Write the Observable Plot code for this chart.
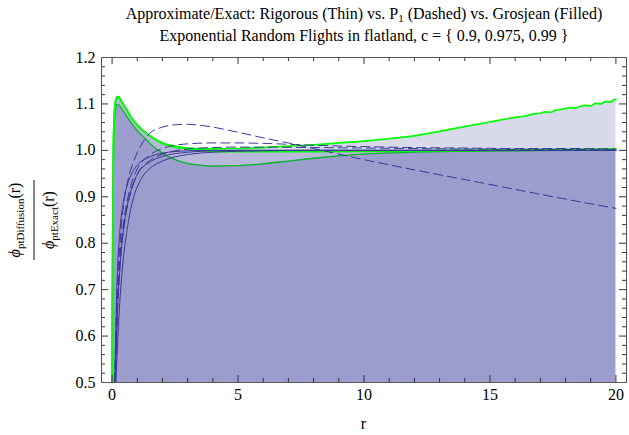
<!DOCTYPE html>
<html>
<head>
<meta charset="utf-8">
<script src="https://cdn.jsdelivr.net/npm/d3@7"></script>
<script src="https://cdn.jsdelivr.net/npm/@observablehq/plot@0.6"></script>
<style>
  html, body { margin: 0; padding: 0; background: #fff; }
  #wrap { position: relative; width: 629px; height: 435px; font-family: "Liberation Serif", "DejaVu Serif", serif; }
  #title { position: absolute; left: 364px; top: 3px; transform: translateX(-50%); white-space: nowrap; text-align: center; font-size: 16px; line-height: 22px; color: #000; }
  #title sub { font-size: 11px; vertical-align: -3px; line-height: 0; }
  #chart { position: absolute; left: 0; top: 50px; }
</style>
</head>
<body>
<div id="wrap">
  <div id="title">Approximate/Exact: Rigorous (Thin) vs. P<sub>1</sub> (Dashed) vs. Grosjean (Filled)<br>Exponential Random Flights in flatland, c = { 0.9, 0.975, 0.99 }</div>
  <div id="chart"></div>
</div>
<script>
// ---- Data: [r, ratio] ----
const grosjean_c090 = [[0,0.5],[0.02,0.75],[0.05,0.97],[0.1,1.07],[0.15,1.093],[0.2,1.099],[0.3,1.096],[0.4,1.088],[0.5,1.08],[0.75,1.06],[1,1.042],[1.25,1.029],[1.5,1.015],[2,0.994],[2.5,0.98],[3,0.972],[3.5,0.968],[4,0.966],[5,0.967],[6,0.971],[7,0.977],[8,0.983],[9,0.988],[10,0.992],[12,0.996],[14,0.998],[16,0.999],[18,1.0],[20,1.0]];
const grosjean_c0975 = [[0,0.5],[0.02,0.78],[0.05,1.0],[0.1,1.09],[0.15,1.11],[0.2,1.116],[0.25,1.116],[0.3,1.113],[0.4,1.104],[0.5,1.095],[0.75,1.072],[1,1.055],[1.25,1.042],[1.5,1.031],[2,1.015],[2.5,1.007],[3,1.003],[3.5,1.0],[4,0.998],[5,0.997],[6,0.997],[8,0.997],[10,0.998],[12,0.999],[14,1.0],[16,1.001],[18,1.002],[20,1.003]];
const grosjean_c099 = [[0,0.5],[0.02,0.78],[0.05,1.0],[0.1,1.088],[0.15,1.108],[0.2,1.114],[0.25,1.114],[0.3,1.111],[0.4,1.102],[0.5,1.094],[0.75,1.071],[1,1.054],[1.5,1.031],[2,1.016],[2.5,1.009],[3,1.005],[4,1.003],[5,1.004],[6,1.006],[7,1.009],[8,1.012],[9,1.016],[10,1.02],[11,1.025],[12,1.031],[13,1.041],[14,1.051],[15,1.061],[16,1.071],[16.4,1.074],[16.8,1.079],[17,1.08],[17.2,1.083],[17.4,1.082],[17.6,1.086],[17.8,1.088],[18,1.09],[18.2,1.092],[18.4,1.091],[18.6,1.095],[18.8,1.097],[19,1.096],[19.2,1.101],[19.4,1.1],[19.6,1.105],[19.8,1.104],[19.9,1.109],[20,1.11]];

const rigorous_c090 = [[0.15,0.5],[0.25,0.62],[0.4,0.74],[0.6,0.83],[0.79,0.885],[1.12,0.935],[1.5,0.961],[2,0.977],[2.5,0.986],[3,0.991],[4,0.996],[5,0.998],[6,0.999],[8,1.0],[20,1.0]];
const rigorous_c0975 = [[0.13,0.5],[0.2,0.63],[0.3,0.74],[0.45,0.83],[0.6,0.88],[0.85,0.93],[1,0.948],[1.5,0.975],[2,0.987],[3,0.996],[4,0.999],[5,1.0],[20,1.0]];
const rigorous_c099 = [[0.11,0.5],[0.15,0.62],[0.2,0.72],[0.3,0.82],[0.45,0.89],[0.6,0.925],[0.8,0.952],[1,0.968],[1.5,0.986],[2,0.994],[3,0.999],[4,1.0],[20,1.0]];

const p1_c090 = [[0.1,0.5],[0.2,0.69],[0.3,0.79],[0.45,0.88],[0.65,0.94],[0.85,0.975],[1,0.995],[1.25,1.02],[1.5,1.037],[2,1.05],[2.5,1.055],[3,1.056],[3.5,1.054],[4,1.05],[5,1.039],[6,1.027],[7,1.016],[8,1.004],[10,0.98],[12,0.958],[14,0.937],[16,0.916],[18,0.895],[20,0.875]];
const p1_c0975 = [[0.11,0.5],[0.2,0.66],[0.3,0.76],[0.5,0.86],[0.75,0.925],[1,0.96],[1.5,0.99],[2,1.004],[2.5,1.011],[3,1.014],[4,1.016],[5,1.016],[6,1.015],[8,1.011],[10,1.008],[12,1.006],[14,1.005],[16,1.004],[18,1.004],[20,1.003]];
const p1_c099 = [[0.12,0.5],[0.2,0.64],[0.3,0.74],[0.5,0.845],[0.75,0.91],[1,0.948],[1.5,0.978],[2,0.992],[2.5,0.999],[3,1.003],[4,1.006],[5,1.007],[6,1.007],[8,1.006],[10,1.005],[14,1.003],[20,1.002]];

const xTickLabels = [0, 5, 10, 15, 20];
const xMinorTicks = [1,2,3,4,6,7,8,9,11,12,13,14,16,17,18,19];
const yTickLabels = [0.5, 0.6, 0.7, 0.8, 0.9, 1.0, 1.1, 1.2];
const yMinorTicks = d3.range(0.52, 1.2, 0.02).filter(v => Math.abs(Math.round(v*10) - v*10) > 0.05);

// ---- Layout ----
const X0 = -0.42, X1 = 20.42, Y0 = 0.5, Y1 = 1.2;
const W = 629, H = 385, mL = 101, mR = 3, mT = 7, mB = 53;
const pxX = (X1 - X0) / (W - mL - mR);
const pxY = (Y1 - Y0) / (H - mT - mB);

const FILL = "#000080", FILL_OP = 0.15;
const GREEN = "#00ff00";
const BLUE = "#383896";
const SERIF = "'Liberation Serif', 'DejaVu Serif', serif";
const fx = d => d[0], fy = d => d[1];

function area(data) {
  return Plot.areaY(data, {x: fx, y1: Y0, y2: fy, fill: FILL, fillOpacity: FILL_OP, curve: "monotone-x", clip: true});
}
function gline(data, w, col) {
  return Plot.line(data, {x: fx, y: fy, stroke: col || GREEN, strokeWidth: w, curve: "monotone-x", clip: true});
}
function bline(data, dashed) {
  return Plot.line(data, {x: fx, y: fy, stroke: BLUE, strokeWidth: 1, strokeDasharray: dashed ? "9,5" : null, curve: "monotone-x", clip: true});
}

const tickCol = "#333";
const chart = Plot.plot({
  width: W, height: H,
  marginLeft: mL, marginRight: mR, marginTop: mT, marginBottom: mB,
  style: {fontSize: "16px", background: "transparent", color: "#000"},
  x: {domain: [X0, X1]},
  y: {domain: [Y0, Y1]},
  marks: [
    area(grosjean_c090),
    gline(grosjean_c090, 1.3),
    area(grosjean_c0975),
    area(grosjean_c099),
    gline(grosjean_c0975, 1.7),
    gline(grosjean_c099, 1.7),
    bline(rigorous_c090, false),
    bline(rigorous_c0975, false),
    bline(rigorous_c099, false),
    bline(p1_c090, true),
    bline(p1_c0975, true),
    bline(p1_c099, true),
    // frame ticks (inward)
    Plot.ruleX(xTickLabels, {y1: Y0, y2: Y0 + 7*pxY, stroke: tickCol}),
    Plot.ruleX(xMinorTicks, {y1: Y0, y2: Y0 + 4*pxY, stroke: tickCol}),
    Plot.ruleX(xTickLabels, {y1: Y1, y2: Y1 - 7*pxY, stroke: tickCol}),
    Plot.ruleX(xMinorTicks, {y1: Y1, y2: Y1 - 4*pxY, stroke: tickCol}),
    Plot.ruleY(yTickLabels, {x1: X0, x2: X0 + 7*pxX, stroke: tickCol}),
    Plot.ruleY(yMinorTicks, {x1: X0, x2: X0 + 4*pxX, stroke: tickCol}),
    Plot.ruleY(yTickLabels, {x1: X1, x2: X1 - 7*pxX, stroke: tickCol}),
    Plot.ruleY(yMinorTicks, {x1: X1, x2: X1 - 4*pxX, stroke: tickCol}),
    Plot.frame({stroke: "#555", strokeWidth: 1}),
    Plot.axisX(xTickLabels, {tickSize: 0, tickPadding: 6, label: null, fontSize: 16}),
    Plot.axisY(yTickLabels, {tickSize: 0, tickPadding: 6, label: null, fontSize: 16, tickFormat: d3.format(".1f")})
  ]
});
document.getElementById("chart").appendChild(chart);

// ---- axis labels (real SVG text) ----
const svg = d3.select(chart);
const top0 = 50;
svg.append("text")
  .attr("x", (mL + W - mR) / 2).attr("y", 425 - top0)
  .attr("text-anchor", "middle").attr("dominant-baseline", "middle")
  .style("font-size", "16px").text("r");

const cy = 220 - top0;
function fracPart(x, sub) {
  const t = svg.append("text")
    .attr("transform", `translate(${x},${cy}) rotate(-90)`)
    .attr("text-anchor", "middle")
    .style("font-size", "16px");
  t.append("tspan").style("font-style", "italic").text("\u03d5");
  t.append("tspan").attr("dy", 4).style("font-size", "11px").text(sub);
  t.append("tspan").attr("dy", -4).text("(r)");
  return t;
}
fracPart(20, "ptDiffusion");
fracPart(54, "ptExact");
svg.append("line")
  .attr("x1", 34).attr("x2", 34)
  .attr("y1", cy - 40).attr("y2", cy + 40)
  .attr("stroke", "#111").attr("stroke-width", 1);

// force the serif face on every text element of the chart
svg.style("font-family", SERIF);
svg.selectAll("text, tspan").attr("font-family", SERIF).style("font-family", SERIF).attr("fill", "#000");
</script>
</body>
</html>
